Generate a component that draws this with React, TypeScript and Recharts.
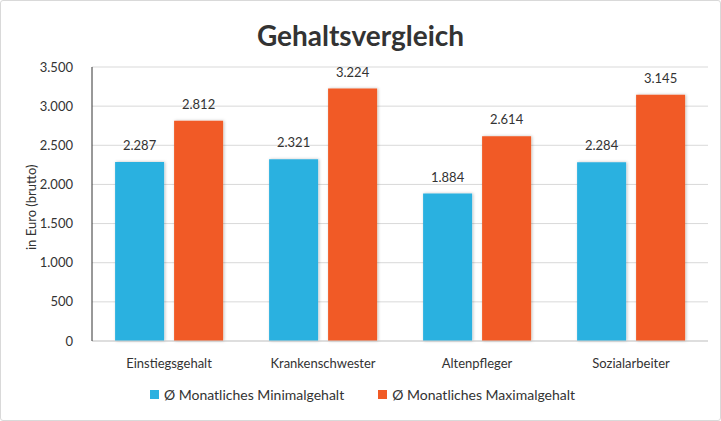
import React from "react";
import { BarChart, Bar, XAxis, YAxis, CartesianGrid, LabelList } from "recharts";

const categories = ["Einstiegsgehalt", "Krankenschwester", "Altenpfleger", "Sozialarbeiter"];
const minGehalt = [2287, 2321, 1884, 2284];
const maxGehalt = [2812, 3224, 2614, 3145];
const yTicks = [0, 500, 1000, 1500, 2000, 2500, 3000, 3500];
const seriesNames = ["Ø Monatliches Minimalgehalt", "Ø Monatliches Maximalgehalt"];

const data = categories.map((c, i) => ({ name: c, min: minGehalt[i], max: maxGehalt[i] }));

const fmt = (v: number) => v.toString().replace(/\B(?=(\d{3})+(?!\d))/g, ".");
const FONT = "Lato, 'Open Sans', sans-serif";
const BLUE = "#2bb1e0";
const ORANGE = "#f15a25";
const colors = [BLUE, ORANGE];

export default function App() {
  return (
    <div style={{ position: "absolute", left: 0, top: 0, width: 721, height: 421, background: "#fff", fontFamily: FONT, boxSizing: "border-box", border: "1px solid #d9d9d9", borderRadius: 3 }}>
      <div style={{ position: "absolute", left: 0, top: 17, width: 719, textAlign: "center", fontSize: 28, fontWeight: 700, color: "#333" }}>Gehaltsvergleich</div>
      <div style={{ position: "absolute", left: -1, top: -1 }}>
        <BarChart width={721} height={421} data={data} margin={{ top: 67, right: 13, bottom: 48, left: 0 }} barCategoryGap="15%" barGap={10}>
          <defs>
            <filter id="shadow" x="-20%" y="-10%" width="140%" height="120%">
              <feDropShadow dx="1" dy="0" stdDeviation="1.5" floodColor="#000" floodOpacity="0.25" />
            </filter>
          </defs>
          <CartesianGrid vertical={false} stroke="#d9d9d9" />
          <XAxis dataKey="name" height={32} axisLine={{ stroke: "#d0d0d0" }} tickLine={false} tick={{ fill: "#333", fontSize: 13, fontFamily: FONT }} tickMargin={12} />
          <YAxis width={92} domain={[0, 3500]} ticks={yTicks} tickFormatter={fmt} axisLine={{ stroke: "#333" }} tickLine={false} tick={{ fill: "#333", fontSize: 13, fontFamily: FONT }} tickMargin={13}
            label={{ value: "in Euro (brutto)", angle: -90, position: "insideLeft", dx: 26, dy: 46, style: { fill: "#333", fontSize: 13, fontFamily: FONT } }} />
          <Bar dataKey="min" name={seriesNames[0]} fill={BLUE} isAnimationActive={false} filter="url(#shadow)">
            <LabelList dataKey="min" position="top" offset={12} formatter={(v: any) => fmt(v)} style={{ fill: "#333", fontSize: 13, fontFamily: FONT }} />
          </Bar>
          <Bar dataKey="max" name={seriesNames[1]} fill={ORANGE} isAnimationActive={false} filter="url(#shadow)">
            <LabelList dataKey="max" position="top" offset={12} formatter={(v: any) => fmt(v)} style={{ fill: "#333", fontSize: 13, fontFamily: FONT }} />
          </Bar>
        </BarChart>
      </div>
      <div style={{ position: "absolute", left: 0, top: 385, width: 719, display: "flex", justifyContent: "center", gap: 34, fontSize: 14, color: "#333", paddingLeft: 4, boxSizing: "border-box" }}>
        {seriesNames.map((n, i) => (
          <div key={n} style={{ display: "flex", alignItems: "center" }}>
            <span style={{ display: "inline-block", width: 9, height: 9, background: colors[i], marginRight: 5 }} />
            <span>{n}</span>
          </div>
        ))}
      </div>
    </div>
  );
}
